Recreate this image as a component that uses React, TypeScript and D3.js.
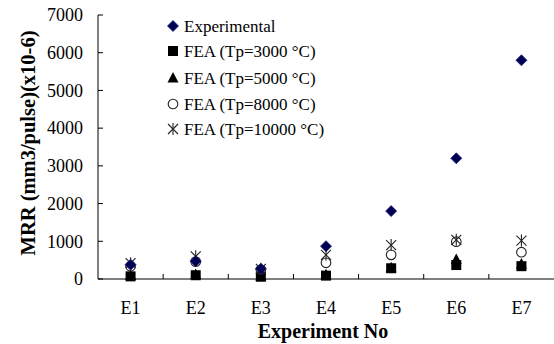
import * as d3 from 'd3';

const experiments = ['E1', 'E2', 'E3', 'E4', 'E5', 'E6', 'E7'];
const experimental = [380, 470, 270, 870, 1800, 3200, 5800];
const tp3000 = [70, 100, 60, 90, 285, 370, 340];
const tp5000 = [90, 120, 80, 110, 300, 520, 400];
const tp8000 = [340, 460, 250, 430, 640, 990, 710];
const tp10000 = [420, 600, 270, 640, 900, 1040, 1020];
const yTicks = [0, 1000, 2000, 3000, 4000, 5000, 6000, 7000];

const seriesNames = [
  'Experimental',
  'FEA (Tp=3000 \u00b0C)',
  'FEA (Tp=5000 \u00b0C)',
  'FEA (Tp=8000 \u00b0C)',
  'FEA (Tp=10000 \u00b0C)',
];

const W = 554;
const H = 344;
const M = { left: 98, right: 0, top: 15, bottom: 65 };
const FONT = '"Liberation Serif", "Times New Roman", serif';

type Shape = 'diamond' | 'square' | 'triangle' | 'circle' | 'star';

const Marker = ({ shape, x, y }: { shape: Shape; x: number; y: number }) => {
  if (shape === 'diamond') {
    return <path d={`M${x},${y - 5.5}L${x + 5.5},${y}L${x},${y + 5.5}L${x - 5.5},${y}Z`} fill="#000050" stroke="#1a1a80" strokeWidth={0.8} />;
  }
  if (shape === 'square') {
    return <rect x={x - 5} y={y - 5} width={10} height={10} fill="#000" />;
  }
  if (shape === 'triangle') {
    return <path d={`M${x},${y - 6}L${x + 5.5},${y + 4.5}L${x - 5.5},${y + 4.5}Z`} fill="#000" />;
  }
  if (shape === 'circle') {
    return <circle cx={x} cy={y} r={4.8} fill="none" stroke="#222" strokeWidth={1.1} />;
  }
  return (
    <g stroke="#222" strokeWidth={1.1}>
      <line x1={x - 5} y1={y - 5} x2={x + 5} y2={y + 5} />
      <line x1={x - 5} y1={y + 5} x2={x + 5} y2={y - 5} />
      <line x1={x} y1={y - 6} x2={x} y2={y + 6} />
    </g>
  );
};

export default function App() {
  const x = d3.scaleBand().domain(experiments).range([M.left, W - M.right]);
  const y = d3.scaleLinear().domain([0, 7000]).range([H - M.bottom, M.top]);
  const y0 = y(0);

  const series: { shape: Shape; values: number[] }[] = [
    { shape: 'square', values: tp3000 },
    { shape: 'triangle', values: tp5000 },
    { shape: 'circle', values: tp8000 },
    { shape: 'star', values: tp10000 },
    { shape: 'diamond', values: experimental },
  ];
  const legendShapes: Shape[] = ['diamond', 'square', 'triangle', 'circle', 'star'];
  const legendY = [26, 51, 78, 104, 129];

  return (
    <svg width={W} height={H} style={{ position: 'absolute', left: 0, top: 0, background: '#fff' }} fontFamily={FONT}>
      {/* axes */}
      <line x1={M.left} y1={M.top} x2={M.left} y2={y0} stroke="#000" />
      <line x1={M.left} y1={y0} x2={W} y2={y0} stroke="#000" />
      {yTicks.map((t) => (
        <g key={t}>
          <line x1={M.left} x2={M.left + 5} y1={y(t)} y2={y(t)} stroke="#000" />
          <text x={83} y={y(t)} dy="0.35em" textAnchor="end" fontSize={18}>
            {t}
          </text>
        </g>
      ))}
      {experiments.map((e, i) => (
        <g key={e}>
          {i > 0 && <line x1={x(e)!} x2={x(e)!} y1={y0} y2={y0 - 5} stroke="#000" />}
          <text x={x(e)! + x.bandwidth() / 2} y={308} dy="0.35em" textAnchor="middle" fontSize={18}>
            {e}
          </text>
        </g>
      ))}
      <text x={323} y={331} dy="0.35em" textAnchor="middle" fontSize={20} fontWeight="bold">
        Experiment No
      </text>
      <text transform={`translate(28,143) rotate(-90)`} dy="0.35em" textAnchor="middle" fontSize={20.5} fontWeight="bold">
        MRR (mm3/pulse)(x10-6)
      </text>

      {/* points */}
      {series.map((s) =>
        s.values.map((v, i) => (
          <Marker key={`${s.shape}-${i}`} shape={s.shape} x={x(experiments[i])! + x.bandwidth() / 2} y={y(v)} />
        ))
      )}

      {/* legend */}
      {seriesNames.map((n, i) => (
        <g key={n}>
          <Marker shape={legendShapes[i]} x={173} y={legendY[i]} />
          <text x={184} y={legendY[i]} dy="0.35em" fontSize={17}>
            {n}
          </text>
        </g>
      ))}
    </svg>
  );
}
